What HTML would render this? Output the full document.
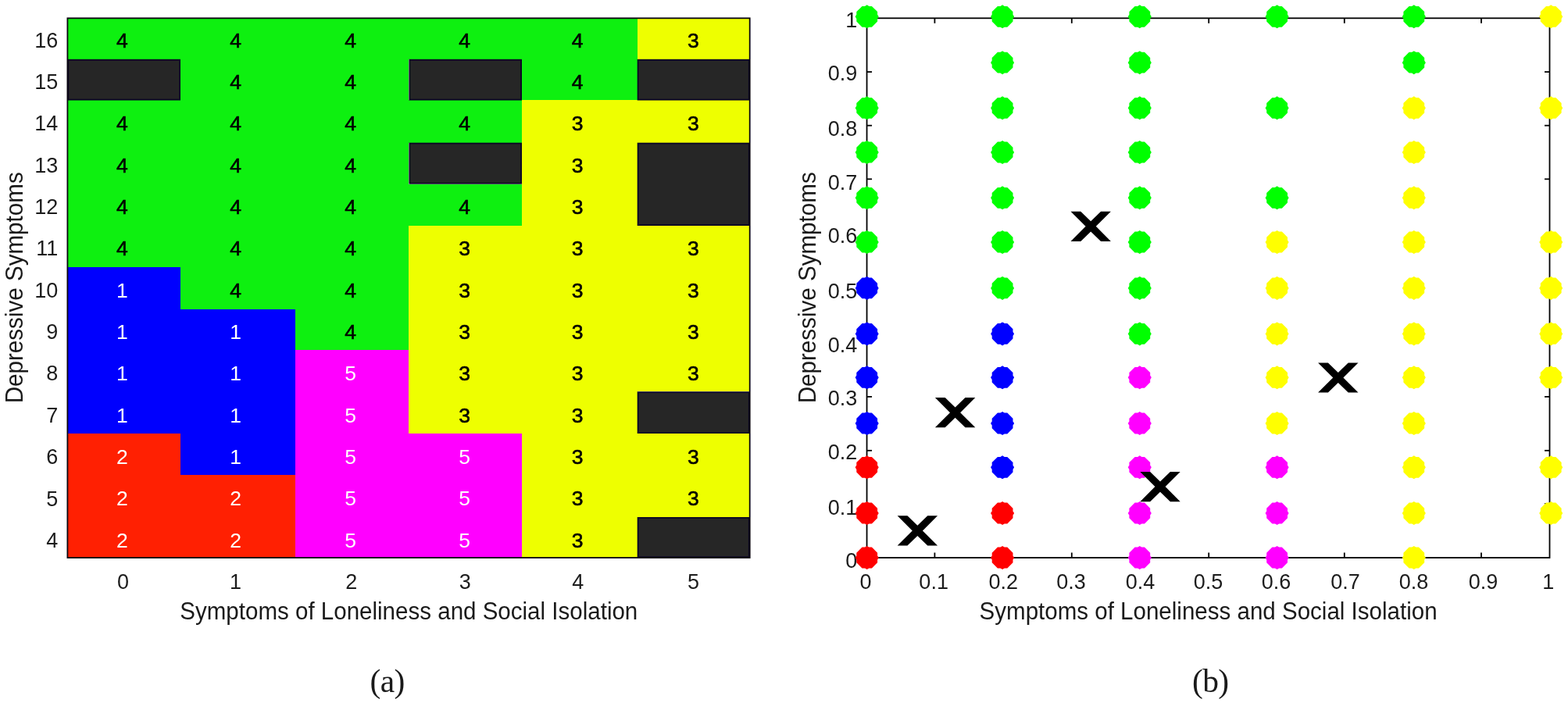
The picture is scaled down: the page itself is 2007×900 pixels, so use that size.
<!DOCTYPE html>
<html><head><meta charset="utf-8"><style>
html,body{margin:0;padding:0;background:#fff;}
svg{display:block;}
.t{font-family:"Liberation Sans",Arial,sans-serif;font-size:27px;}
.tc{font-family:"Liberation Sans",Arial,sans-serif;font-size:26.5px;stroke-width:0.6px;}
.lab{font-family:"Liberation Sans",Arial,sans-serif;font-size:31px;fill:#1a1a1a;}
.cap{font-family:"Liberation Serif","Times New Roman",serif;font-size:41.5px;fill:#1a1a1a;letter-spacing:-0.6px;}
.ax{stroke:#000;stroke-width:1.8;fill:none;}
</style></head><body>
<svg width="2007" height="900" viewBox="0 0 2007 900">
<defs>
<polygon id="dot" points="0.00,-15.00 1.20,-14.30 2.60,-13.40 6.20,-13.40 13.40,-6.20 13.40,-2.60 14.30,-1.20 15.00,0.00 14.30,1.20 13.40,2.60 13.40,6.20 6.20,13.40 2.60,13.40 1.20,14.30 0.00,15.00 -1.20,14.30 -2.60,13.40 -6.20,13.40 -13.40,6.20 -13.40,2.60 -14.30,1.20 -15.00,0.00 -14.30,-1.20 -13.40,-2.60 -13.40,-6.20 -6.20,-13.40 -2.60,-13.40 -1.20,-14.30"/>
<polygon id="xm" points="-25.70,-19.10 -12.90,-19.10 0.00,-6.60 12.90,-19.10 25.70,-19.10 6.60,0.00 25.70,19.10 12.90,19.10 0.00,6.60 -12.90,19.10 -25.70,19.10 -6.60,0.00" fill="#000"/>
</defs>
<rect width="2007" height="900" fill="#fff"/>
<g shape-rendering="crispEdges">
<rect x="86" y="23" width="145" height="53" fill="#0ef010"/>
<rect x="231" y="23" width="147" height="53" fill="#0ef010"/>
<rect x="378" y="23" width="145" height="53" fill="#0ef010"/>
<rect x="523" y="23" width="145" height="53" fill="#0ef010"/>
<rect x="668" y="23" width="148" height="53" fill="#0ef010"/>
<rect x="816" y="23" width="144" height="53" fill="#eeff00"/>
<rect x="231" y="76" width="147" height="52" fill="#0ef010"/>
<rect x="378" y="76" width="145" height="52" fill="#0ef010"/>
<rect x="668" y="76" width="148" height="52" fill="#0ef010"/>
<rect x="86" y="128" width="145" height="55" fill="#0ef010"/>
<rect x="231" y="128" width="147" height="55" fill="#0ef010"/>
<rect x="378" y="128" width="145" height="55" fill="#0ef010"/>
<rect x="523" y="128" width="145" height="55" fill="#0ef010"/>
<rect x="668" y="128" width="148" height="55" fill="#eeff00"/>
<rect x="816" y="128" width="144" height="55" fill="#eeff00"/>
<rect x="86" y="183" width="145" height="53" fill="#0ef010"/>
<rect x="231" y="183" width="147" height="53" fill="#0ef010"/>
<rect x="378" y="183" width="145" height="53" fill="#0ef010"/>
<rect x="668" y="183" width="148" height="53" fill="#eeff00"/>
<rect x="86" y="236" width="145" height="53" fill="#0ef010"/>
<rect x="231" y="236" width="147" height="53" fill="#0ef010"/>
<rect x="378" y="236" width="145" height="53" fill="#0ef010"/>
<rect x="523" y="236" width="145" height="53" fill="#0ef010"/>
<rect x="668" y="236" width="148" height="53" fill="#eeff00"/>
<rect x="86" y="289" width="145" height="53" fill="#0ef010"/>
<rect x="231" y="289" width="147" height="53" fill="#0ef010"/>
<rect x="378" y="289" width="145" height="53" fill="#0ef010"/>
<rect x="523" y="289" width="145" height="53" fill="#eeff00"/>
<rect x="668" y="289" width="148" height="53" fill="#eeff00"/>
<rect x="816" y="289" width="144" height="53" fill="#eeff00"/>
<rect x="86" y="342" width="145" height="54" fill="#0000fe"/>
<rect x="231" y="342" width="147" height="54" fill="#0ef010"/>
<rect x="378" y="342" width="145" height="54" fill="#0ef010"/>
<rect x="523" y="342" width="145" height="54" fill="#eeff00"/>
<rect x="668" y="342" width="148" height="54" fill="#eeff00"/>
<rect x="816" y="342" width="144" height="54" fill="#eeff00"/>
<rect x="86" y="396" width="145" height="52" fill="#0000fe"/>
<rect x="231" y="396" width="147" height="52" fill="#0000fe"/>
<rect x="378" y="396" width="145" height="52" fill="#0ef010"/>
<rect x="523" y="396" width="145" height="52" fill="#eeff00"/>
<rect x="668" y="396" width="148" height="52" fill="#eeff00"/>
<rect x="816" y="396" width="144" height="52" fill="#eeff00"/>
<rect x="86" y="448" width="145" height="53" fill="#0000fe"/>
<rect x="231" y="448" width="147" height="53" fill="#0000fe"/>
<rect x="378" y="448" width="145" height="53" fill="#ff00ff"/>
<rect x="523" y="448" width="145" height="53" fill="#eeff00"/>
<rect x="668" y="448" width="148" height="53" fill="#eeff00"/>
<rect x="816" y="448" width="144" height="53" fill="#eeff00"/>
<rect x="86" y="501" width="145" height="54" fill="#0000fe"/>
<rect x="231" y="501" width="147" height="54" fill="#0000fe"/>
<rect x="378" y="501" width="145" height="54" fill="#ff00ff"/>
<rect x="523" y="501" width="145" height="54" fill="#eeff00"/>
<rect x="668" y="501" width="148" height="54" fill="#eeff00"/>
<rect x="86" y="555" width="145" height="53" fill="#ff2002"/>
<rect x="231" y="555" width="147" height="53" fill="#0000fe"/>
<rect x="378" y="555" width="145" height="53" fill="#ff00ff"/>
<rect x="523" y="555" width="145" height="53" fill="#ff00ff"/>
<rect x="668" y="555" width="148" height="53" fill="#eeff00"/>
<rect x="816" y="555" width="144" height="53" fill="#eeff00"/>
<rect x="86" y="608" width="145" height="54" fill="#ff2002"/>
<rect x="231" y="608" width="147" height="54" fill="#ff2002"/>
<rect x="378" y="608" width="145" height="54" fill="#ff00ff"/>
<rect x="523" y="608" width="145" height="54" fill="#ff00ff"/>
<rect x="668" y="608" width="148" height="54" fill="#eeff00"/>
<rect x="816" y="608" width="144" height="54" fill="#eeff00"/>
<rect x="86" y="662" width="145" height="52" fill="#ff2002"/>
<rect x="231" y="662" width="147" height="52" fill="#ff2002"/>
<rect x="378" y="662" width="145" height="52" fill="#ff00ff"/>
<rect x="523" y="662" width="145" height="52" fill="#ff00ff"/>
<rect x="668" y="662" width="148" height="52" fill="#eeff00"/>
</g>
<rect x="87.30" y="76.70" width="142.80" height="50.90" fill="#262626" stroke="#0a0624" stroke-width="1.8"/>
<rect x="524.30" y="76.70" width="142.80" height="50.90" fill="#262626" stroke="#0a0624" stroke-width="1.8"/>
<rect x="816.60" y="76.70" width="142.20" height="50.90" fill="#262626" stroke="#0a0624" stroke-width="1.8"/>
<rect x="524.30" y="183.60" width="142.80" height="51.20" fill="#262626" stroke="#0a0624" stroke-width="1.8"/>
<rect x="816.60" y="183.60" width="142.20" height="104.50" fill="#262626" stroke="#0a0624" stroke-width="1.8"/>
<rect x="816.60" y="502.20" width="142.20" height="51.90" fill="#262626" stroke="#0a0624" stroke-width="1.8"/>
<rect x="816.60" y="662.90" width="142.20" height="50.20" fill="#262626" stroke="#0a0624" stroke-width="1.8"/>
<text x="156.45" y="60.70" fill="#000" stroke="#000" class="tc" text-anchor="middle">4</text>
<text x="301.70" y="60.70" fill="#000" stroke="#000" class="tc" text-anchor="middle">4</text>
<text x="448.70" y="60.70" fill="#000" stroke="#000" class="tc" text-anchor="middle">4</text>
<text x="594.70" y="60.70" fill="#000" stroke="#000" class="tc" text-anchor="middle">4</text>
<text x="739.15" y="60.70" fill="#000" stroke="#000" class="tc" text-anchor="middle">4</text>
<text x="887.30" y="60.70" fill="#000" stroke="#000" class="tc" text-anchor="middle">3</text>
<text x="301.70" y="114.03" fill="#000" stroke="#000" class="tc" text-anchor="middle">4</text>
<text x="448.70" y="114.03" fill="#000" stroke="#000" class="tc" text-anchor="middle">4</text>
<text x="739.15" y="114.03" fill="#000" stroke="#000" class="tc" text-anchor="middle">4</text>
<text x="156.45" y="167.36" fill="#000" stroke="#000" class="tc" text-anchor="middle">4</text>
<text x="301.70" y="167.36" fill="#000" stroke="#000" class="tc" text-anchor="middle">4</text>
<text x="448.70" y="167.36" fill="#000" stroke="#000" class="tc" text-anchor="middle">4</text>
<text x="594.70" y="167.36" fill="#000" stroke="#000" class="tc" text-anchor="middle">4</text>
<text x="739.15" y="167.36" fill="#000" stroke="#000" class="tc" text-anchor="middle">3</text>
<text x="887.30" y="167.36" fill="#000" stroke="#000" class="tc" text-anchor="middle">3</text>
<text x="156.45" y="220.69" fill="#000" stroke="#000" class="tc" text-anchor="middle">4</text>
<text x="301.70" y="220.69" fill="#000" stroke="#000" class="tc" text-anchor="middle">4</text>
<text x="448.70" y="220.69" fill="#000" stroke="#000" class="tc" text-anchor="middle">4</text>
<text x="739.15" y="220.69" fill="#000" stroke="#000" class="tc" text-anchor="middle">3</text>
<text x="156.45" y="274.02" fill="#000" stroke="#000" class="tc" text-anchor="middle">4</text>
<text x="301.70" y="274.02" fill="#000" stroke="#000" class="tc" text-anchor="middle">4</text>
<text x="448.70" y="274.02" fill="#000" stroke="#000" class="tc" text-anchor="middle">4</text>
<text x="594.70" y="274.02" fill="#000" stroke="#000" class="tc" text-anchor="middle">4</text>
<text x="739.15" y="274.02" fill="#000" stroke="#000" class="tc" text-anchor="middle">3</text>
<text x="156.45" y="327.35" fill="#000" stroke="#000" class="tc" text-anchor="middle">4</text>
<text x="301.70" y="327.35" fill="#000" stroke="#000" class="tc" text-anchor="middle">4</text>
<text x="448.70" y="327.35" fill="#000" stroke="#000" class="tc" text-anchor="middle">4</text>
<text x="594.70" y="327.35" fill="#000" stroke="#000" class="tc" text-anchor="middle">3</text>
<text x="739.15" y="327.35" fill="#000" stroke="#000" class="tc" text-anchor="middle">3</text>
<text x="887.30" y="327.35" fill="#000" stroke="#000" class="tc" text-anchor="middle">3</text>
<text x="156.45" y="380.68" fill="#fff" class="tc" text-anchor="middle">1</text>
<text x="301.70" y="380.68" fill="#000" stroke="#000" class="tc" text-anchor="middle">4</text>
<text x="448.70" y="380.68" fill="#000" stroke="#000" class="tc" text-anchor="middle">4</text>
<text x="594.70" y="380.68" fill="#000" stroke="#000" class="tc" text-anchor="middle">3</text>
<text x="739.15" y="380.68" fill="#000" stroke="#000" class="tc" text-anchor="middle">3</text>
<text x="887.30" y="380.68" fill="#000" stroke="#000" class="tc" text-anchor="middle">3</text>
<text x="156.45" y="434.01" fill="#fff" class="tc" text-anchor="middle">1</text>
<text x="301.70" y="434.01" fill="#fff" class="tc" text-anchor="middle">1</text>
<text x="448.70" y="434.01" fill="#000" stroke="#000" class="tc" text-anchor="middle">4</text>
<text x="594.70" y="434.01" fill="#000" stroke="#000" class="tc" text-anchor="middle">3</text>
<text x="739.15" y="434.01" fill="#000" stroke="#000" class="tc" text-anchor="middle">3</text>
<text x="887.30" y="434.01" fill="#000" stroke="#000" class="tc" text-anchor="middle">3</text>
<text x="156.45" y="487.34" fill="#fff" class="tc" text-anchor="middle">1</text>
<text x="301.70" y="487.34" fill="#fff" class="tc" text-anchor="middle">1</text>
<text x="448.70" y="487.34" fill="#fff" class="tc" text-anchor="middle">5</text>
<text x="594.70" y="487.34" fill="#000" stroke="#000" class="tc" text-anchor="middle">3</text>
<text x="739.15" y="487.34" fill="#000" stroke="#000" class="tc" text-anchor="middle">3</text>
<text x="887.30" y="487.34" fill="#000" stroke="#000" class="tc" text-anchor="middle">3</text>
<text x="156.45" y="540.67" fill="#fff" class="tc" text-anchor="middle">1</text>
<text x="301.70" y="540.67" fill="#fff" class="tc" text-anchor="middle">1</text>
<text x="448.70" y="540.67" fill="#fff" class="tc" text-anchor="middle">5</text>
<text x="594.70" y="540.67" fill="#000" stroke="#000" class="tc" text-anchor="middle">3</text>
<text x="739.15" y="540.67" fill="#000" stroke="#000" class="tc" text-anchor="middle">3</text>
<text x="156.45" y="594.00" fill="#fff" class="tc" text-anchor="middle">2</text>
<text x="301.70" y="594.00" fill="#fff" class="tc" text-anchor="middle">1</text>
<text x="448.70" y="594.00" fill="#fff" class="tc" text-anchor="middle">5</text>
<text x="594.70" y="594.00" fill="#fff" class="tc" text-anchor="middle">5</text>
<text x="739.15" y="594.00" fill="#000" stroke="#000" class="tc" text-anchor="middle">3</text>
<text x="887.30" y="594.00" fill="#000" stroke="#000" class="tc" text-anchor="middle">3</text>
<text x="156.45" y="647.33" fill="#fff" class="tc" text-anchor="middle">2</text>
<text x="301.70" y="647.33" fill="#fff" class="tc" text-anchor="middle">2</text>
<text x="448.70" y="647.33" fill="#fff" class="tc" text-anchor="middle">5</text>
<text x="594.70" y="647.33" fill="#fff" class="tc" text-anchor="middle">5</text>
<text x="739.15" y="647.33" fill="#000" stroke="#000" class="tc" text-anchor="middle">3</text>
<text x="887.30" y="647.33" fill="#000" stroke="#000" class="tc" text-anchor="middle">3</text>
<text x="156.45" y="700.66" fill="#fff" class="tc" text-anchor="middle">2</text>
<text x="301.70" y="700.66" fill="#fff" class="tc" text-anchor="middle">2</text>
<text x="448.70" y="700.66" fill="#fff" class="tc" text-anchor="middle">5</text>
<text x="594.70" y="700.66" fill="#fff" class="tc" text-anchor="middle">5</text>
<text x="739.15" y="700.66" fill="#000" stroke="#000" class="tc" text-anchor="middle">3</text>
<rect x="86.40" y="23.30" width="873.30" height="690.70" fill="none" stroke="#0a0610" stroke-width="1.8"/>
<text x="74.2" y="60.67" class="t" fill="#1c1c1c" text-anchor="end">16</text>
<text x="74.2" y="114.02" class="t" fill="#1c1c1c" text-anchor="end">15</text>
<text x="74.2" y="167.37" class="t" fill="#1c1c1c" text-anchor="end">14</text>
<text x="74.2" y="220.72" class="t" fill="#1c1c1c" text-anchor="end">13</text>
<text x="74.2" y="274.07" class="t" fill="#1c1c1c" text-anchor="end">12</text>
<text x="74.2" y="327.42" class="t" fill="#1c1c1c" text-anchor="end">11</text>
<text x="74.2" y="380.77" class="t" fill="#1c1c1c" text-anchor="end">10</text>
<text x="74.2" y="434.12" class="t" fill="#1c1c1c" text-anchor="end">9</text>
<text x="74.2" y="487.47" class="t" fill="#1c1c1c" text-anchor="end">8</text>
<text x="74.2" y="540.82" class="t" fill="#1c1c1c" text-anchor="end">7</text>
<text x="74.2" y="594.17" class="t" fill="#1c1c1c" text-anchor="end">6</text>
<text x="74.2" y="647.52" class="t" fill="#1c1c1c" text-anchor="end">5</text>
<text x="74.2" y="700.87" class="t" fill="#1c1c1c" text-anchor="end">4</text>
<text x="157.45" y="753.6" class="t" fill="#1c1c1c" text-anchor="middle">0</text>
<text x="301.45" y="753.6" class="t" fill="#1c1c1c" text-anchor="middle">1</text>
<text x="449.65" y="753.6" class="t" fill="#1c1c1c" text-anchor="middle">2</text>
<text x="595.25" y="753.6" class="t" fill="#1c1c1c" text-anchor="middle">3</text>
<text x="739.65" y="753.6" class="t" fill="#1c1c1c" text-anchor="middle">4</text>
<text x="887.55" y="753.6" class="t" fill="#1c1c1c" text-anchor="middle">5</text>
<text x="230.3" y="793.3" class="lab" textLength="586" lengthAdjust="spacingAndGlyphs">Symptoms of Loneliness and Social Isolation</text>
<text transform="translate(28.8,516.3) rotate(-90)" class="lab" textLength="296" lengthAdjust="spacingAndGlyphs">Depressive Symptoms</text>
<text x="495.7" y="885.9" class="cap" text-anchor="middle">(a)</text>
<g class="ax">
<line x1="1196.40" y1="714.00" x2="1196.40" y2="707.50"/>
<line x1="1196.40" y1="23.30" x2="1196.40" y2="29.80"/>
<line x1="1109.55" y1="644.93" x2="1116.05" y2="644.93"/>
<line x1="1983.50" y1="644.93" x2="1977.00" y2="644.93"/>
<line x1="1284.34" y1="714.00" x2="1284.34" y2="707.50"/>
<line x1="1284.34" y1="23.30" x2="1284.34" y2="29.80"/>
<line x1="1109.55" y1="576.80" x2="1116.05" y2="576.80"/>
<line x1="1983.50" y1="576.80" x2="1977.00" y2="576.80"/>
<line x1="1371.80" y1="714.00" x2="1371.80" y2="707.50"/>
<line x1="1371.80" y1="23.30" x2="1371.80" y2="29.80"/>
<line x1="1109.55" y1="507.90" x2="1116.05" y2="507.90"/>
<line x1="1983.50" y1="507.90" x2="1977.00" y2="507.90"/>
<line x1="1459.13" y1="714.00" x2="1459.13" y2="707.50"/>
<line x1="1459.13" y1="23.30" x2="1459.13" y2="29.80"/>
<line x1="1109.55" y1="437.72" x2="1116.05" y2="437.72"/>
<line x1="1983.50" y1="437.72" x2="1977.00" y2="437.72"/>
<line x1="1547.20" y1="714.00" x2="1547.20" y2="707.50"/>
<line x1="1547.20" y1="23.30" x2="1547.20" y2="29.80"/>
<line x1="1109.55" y1="368.65" x2="1116.05" y2="368.65"/>
<line x1="1983.50" y1="368.65" x2="1977.00" y2="368.65"/>
<line x1="1633.92" y1="714.00" x2="1633.92" y2="707.50"/>
<line x1="1633.92" y1="23.30" x2="1633.92" y2="29.80"/>
<line x1="1109.55" y1="299.58" x2="1116.05" y2="299.58"/>
<line x1="1983.50" y1="299.58" x2="1977.00" y2="299.58"/>
<line x1="1720.80" y1="714.00" x2="1720.80" y2="707.50"/>
<line x1="1720.80" y1="23.30" x2="1720.80" y2="29.80"/>
<line x1="1109.55" y1="229.30" x2="1116.05" y2="229.30"/>
<line x1="1983.50" y1="229.30" x2="1977.00" y2="229.30"/>
<line x1="1808.71" y1="714.00" x2="1808.71" y2="707.50"/>
<line x1="1808.71" y1="23.30" x2="1808.71" y2="29.80"/>
<line x1="1109.55" y1="160.70" x2="1116.05" y2="160.70"/>
<line x1="1983.50" y1="160.70" x2="1977.00" y2="160.70"/>
<line x1="1896.00" y1="714.00" x2="1896.00" y2="707.50"/>
<line x1="1896.00" y1="23.30" x2="1896.00" y2="29.80"/>
<line x1="1109.55" y1="92.05" x2="1116.05" y2="92.05"/>
<line x1="1983.50" y1="92.05" x2="1977.00" y2="92.05"/>
<rect x="1109.55" y="23.30" width="873.95" height="690.70"/>
</g>
<text x="1107.95" y="753.6" class="t" fill="#1c1c1c" text-anchor="middle">0</text>
<text x="1097.2" y="727.12" class="t" fill="#1c1c1c" text-anchor="end">0</text>
<text x="1195.14" y="753.6" class="t" fill="#1c1c1c" text-anchor="middle">0.1</text>
<text x="1097.2" y="658.57" class="t" fill="#1c1c1c" text-anchor="end">0.1</text>
<text x="1284.24" y="753.6" class="t" fill="#1c1c1c" text-anchor="middle">0.2</text>
<text x="1097.2" y="587.87" class="t" fill="#1c1c1c" text-anchor="end">0.2</text>
<text x="1371.13" y="753.6" class="t" fill="#1c1c1c" text-anchor="middle">0.3</text>
<text x="1097.2" y="519.12" class="t" fill="#1c1c1c" text-anchor="end">0.3</text>
<text x="1459.43" y="753.6" class="t" fill="#1c1c1c" text-anchor="middle">0.4</text>
<text x="1097.2" y="450.67" class="t" fill="#1c1c1c" text-anchor="end">0.4</text>
<text x="1546.58" y="753.6" class="t" fill="#1c1c1c" text-anchor="middle">0.5</text>
<text x="1097.2" y="381.97" class="t" fill="#1c1c1c" text-anchor="end">0.5</text>
<text x="1633.52" y="753.6" class="t" fill="#1c1c1c" text-anchor="middle">0.6</text>
<text x="1097.2" y="311.47" class="t" fill="#1c1c1c" text-anchor="end">0.6</text>
<text x="1721.91" y="753.6" class="t" fill="#1c1c1c" text-anchor="middle">0.7</text>
<text x="1097.2" y="242.57" class="t" fill="#1c1c1c" text-anchor="end">0.7</text>
<text x="1809.51" y="753.6" class="t" fill="#1c1c1c" text-anchor="middle">0.8</text>
<text x="1097.2" y="173.97" class="t" fill="#1c1c1c" text-anchor="end">0.8</text>
<text x="1898.51" y="753.6" class="t" fill="#1c1c1c" text-anchor="middle">0.9</text>
<text x="1097.2" y="103.32" class="t" fill="#1c1c1c" text-anchor="end">0.9</text>
<text x="1981.85" y="753.6" class="t" fill="#1c1c1c" text-anchor="middle">1</text>
<text x="1097.2" y="34.57" class="t" fill="#1c1c1c" text-anchor="end">1</text>
<text x="1253.6" y="793.3" class="lab" textLength="586" lengthAdjust="spacingAndGlyphs">Symptoms of Loneliness and Social Isolation</text>
<text transform="translate(1043.6,516.3) rotate(-90)" class="lab" textLength="296" lengthAdjust="spacingAndGlyphs">Depressive Symptoms</text>
<text x="1549.3" y="885.9" class="cap" text-anchor="middle">(b)</text>
<use href="#dot" x="1109.70" y="21.30" fill="#00ff00"/>
<use href="#dot" x="1283.10" y="21.30" fill="#00ff00"/>
<use href="#dot" x="1458.80" y="21.30" fill="#00ff00"/>
<use href="#dot" x="1634.60" y="21.30" fill="#00ff00"/>
<use href="#dot" x="1809.80" y="21.30" fill="#00ff00"/>
<use href="#dot" x="1985.20" y="21.30" fill="#ffff00"/>
<use href="#dot" x="1283.10" y="80.20" fill="#00ff00"/>
<use href="#dot" x="1458.80" y="80.20" fill="#00ff00"/>
<use href="#dot" x="1809.80" y="80.20" fill="#00ff00"/>
<use href="#dot" x="1109.70" y="138.30" fill="#00ff00"/>
<use href="#dot" x="1283.10" y="138.30" fill="#00ff00"/>
<use href="#dot" x="1458.80" y="138.30" fill="#00ff00"/>
<use href="#dot" x="1634.60" y="138.30" fill="#00ff00"/>
<use href="#dot" x="1809.80" y="138.30" fill="#ffff00"/>
<use href="#dot" x="1985.20" y="138.30" fill="#ffff00"/>
<use href="#dot" x="1109.70" y="195.00" fill="#00ff00"/>
<use href="#dot" x="1283.10" y="195.00" fill="#00ff00"/>
<use href="#dot" x="1458.80" y="195.00" fill="#00ff00"/>
<use href="#dot" x="1809.80" y="195.00" fill="#ffff00"/>
<use href="#dot" x="1109.70" y="253.30" fill="#00ff00"/>
<use href="#dot" x="1283.10" y="253.30" fill="#00ff00"/>
<use href="#dot" x="1458.80" y="253.30" fill="#00ff00"/>
<use href="#dot" x="1634.60" y="253.30" fill="#00ff00"/>
<use href="#dot" x="1809.80" y="253.30" fill="#ffff00"/>
<use href="#dot" x="1109.70" y="310.00" fill="#00ff00"/>
<use href="#dot" x="1283.10" y="310.00" fill="#00ff00"/>
<use href="#dot" x="1458.80" y="310.00" fill="#00ff00"/>
<use href="#dot" x="1634.60" y="310.00" fill="#ffff00"/>
<use href="#dot" x="1809.80" y="310.00" fill="#ffff00"/>
<use href="#dot" x="1985.20" y="310.00" fill="#ffff00"/>
<use href="#dot" x="1109.70" y="368.90" fill="#0000ff"/>
<use href="#dot" x="1283.10" y="368.90" fill="#00ff00"/>
<use href="#dot" x="1458.80" y="368.90" fill="#00ff00"/>
<use href="#dot" x="1634.60" y="368.90" fill="#ffff00"/>
<use href="#dot" x="1809.80" y="368.90" fill="#ffff00"/>
<use href="#dot" x="1985.20" y="368.90" fill="#ffff00"/>
<use href="#dot" x="1109.70" y="427.40" fill="#0000ff"/>
<use href="#dot" x="1283.10" y="427.40" fill="#0000ff"/>
<use href="#dot" x="1458.80" y="427.40" fill="#00ff00"/>
<use href="#dot" x="1634.60" y="427.40" fill="#ffff00"/>
<use href="#dot" x="1809.80" y="427.40" fill="#ffff00"/>
<use href="#dot" x="1985.20" y="427.40" fill="#ffff00"/>
<use href="#dot" x="1109.70" y="483.30" fill="#0000ff"/>
<use href="#dot" x="1283.10" y="483.30" fill="#0000ff"/>
<use href="#dot" x="1458.80" y="483.30" fill="#ff00ff"/>
<use href="#dot" x="1634.60" y="483.30" fill="#ffff00"/>
<use href="#dot" x="1809.80" y="483.30" fill="#ffff00"/>
<use href="#dot" x="1985.20" y="483.30" fill="#ffff00"/>
<use href="#dot" x="1109.70" y="542.00" fill="#0000ff"/>
<use href="#dot" x="1283.10" y="542.00" fill="#0000ff"/>
<use href="#dot" x="1458.80" y="542.00" fill="#ff00ff"/>
<use href="#dot" x="1634.60" y="542.00" fill="#ffff00"/>
<use href="#dot" x="1809.80" y="542.00" fill="#ffff00"/>
<use href="#dot" x="1109.70" y="598.30" fill="#ff0000"/>
<use href="#dot" x="1283.10" y="598.30" fill="#0000ff"/>
<use href="#dot" x="1458.80" y="598.30" fill="#ff00ff"/>
<use href="#dot" x="1634.60" y="598.30" fill="#ff00ff"/>
<use href="#dot" x="1809.80" y="598.30" fill="#ffff00"/>
<use href="#dot" x="1985.20" y="598.30" fill="#ffff00"/>
<use href="#dot" x="1109.70" y="657.00" fill="#ff0000"/>
<use href="#dot" x="1283.10" y="657.00" fill="#ff0000"/>
<use href="#dot" x="1458.80" y="657.00" fill="#ff00ff"/>
<use href="#dot" x="1634.60" y="657.00" fill="#ff00ff"/>
<use href="#dot" x="1809.80" y="657.00" fill="#ffff00"/>
<use href="#dot" x="1985.20" y="657.00" fill="#ffff00"/>
<use href="#dot" x="1109.70" y="714.00" fill="#ff0000"/>
<use href="#dot" x="1283.10" y="714.00" fill="#ff0000"/>
<use href="#dot" x="1458.80" y="714.00" fill="#ff00ff"/>
<use href="#dot" x="1634.60" y="714.00" fill="#ff00ff"/>
<use href="#dot" x="1809.80" y="714.00" fill="#ffff00"/>
<use href="#xm" x="1174.35" y="679.40"/>
<use href="#xm" x="1222.60" y="528.20"/>
<use href="#xm" x="1396.20" y="289.80"/>
<use href="#xm" x="1485.00" y="623.10"/>
<use href="#xm" x="1712.80" y="483.50"/>
</svg>
</body></html>
